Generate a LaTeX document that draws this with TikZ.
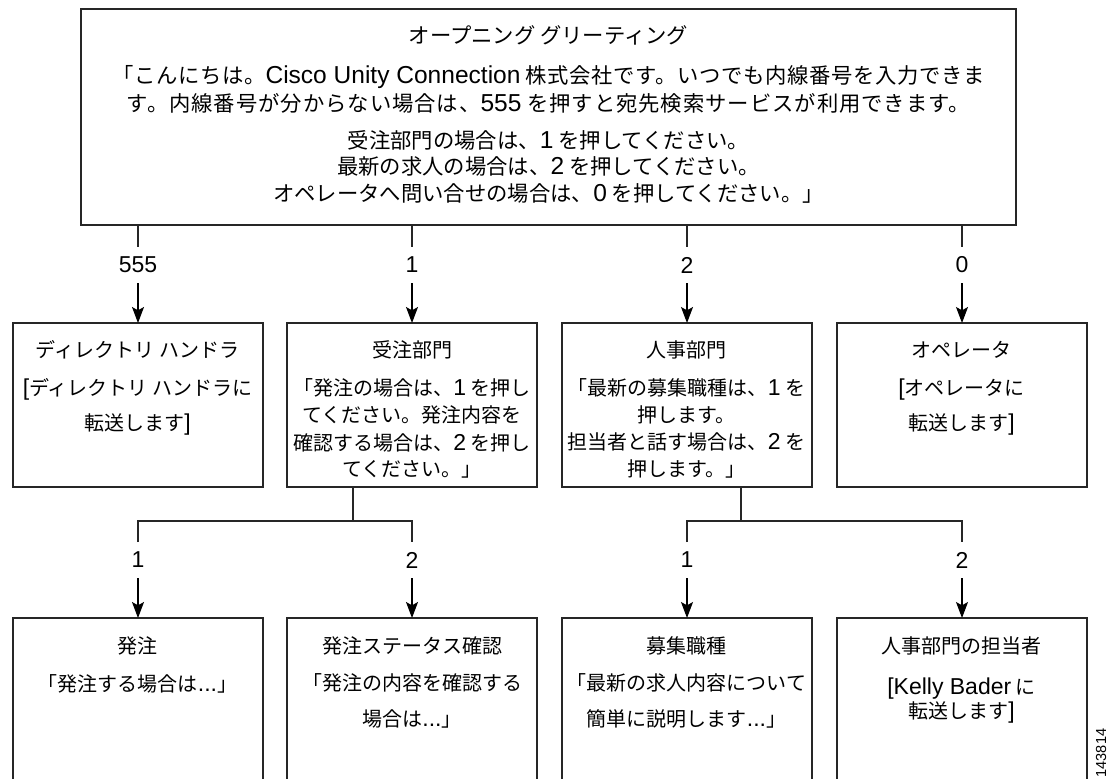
\documentclass[tikz,border=0pt]{standalone}
\usepackage{fontspec}
\setmainfont{Noto Sans CJK JP}
\newfontfamily\lat[Scale=1.15]{Liberation Sans}
\usetikzlibrary{arrows.meta}
\tikzset{
  box/.style={draw=black!85, line width=0.9pt, inner sep=0pt, outer sep=0pt, minimum width=187.5pt, anchor=north west},
  txt/.style={anchor=base, inner sep=0pt, font=\fontsize{15}{18}\selectfont},
  ttxt/.style={anchor=base, inner sep=0pt, font=\fontsize{16}{19}\selectfont},
  lab/.style={inner sep=0pt, outer sep=0pt, minimum height=27pt, font=\fontsize{15}{18}\selectfont\lat},
  con/.style={draw=black!85, line width=0.8pt},
  arr/.style={draw=black, line width=0.8pt, -{Stealth[length=12pt,width=9pt,inset=2.5pt]}},
}
\newcommand\tline[5][txt]{\node[#1] (#2) at #3 {#4#5};}
\begin{document}
\begin{tikzpicture}[x=0.75pt,y=-0.75pt]
\clip (0,0) rectangle (1116,778);
\fill[white] (0,0) rectangle (1116,778);
% top box
\node[box, minimum width=701.25pt, minimum height=162pt] (top) at (81,9) {};
\tline[ttxt]{t1}{(548.5,43)}{}{オープニング グリーティング}
\tline[ttxt]{t2}{(548.5,83)}{\addfontfeatures{LetterSpace=3}}{「こんにちは。{\lat Cisco Unity Connection} 株式会社です。いつでも内線番号を入力できま}
\tline[ttxt]{t3}{(548.5,111)}{\addfontfeatures{LetterSpace=4.5}}{す。内線番号が分からない場合は、{\lat 555} を押すと宛先検索サービスが利用できます。}
\tline[ttxt]{t4}{(548.5,148)}{}{受注部門の場合は、{\lat 1} を押してください。}
\tline[ttxt]{t5}{(548.5,174)}{}{最新の求人の場合は、{\lat 2} を押してください。}
\tline[ttxt]{t6}{(548.5,201)}{}{オペレータへ問い合せの場合は、{\lat 0} を押してください。」}
% row 1 boxes
\node[box, minimum height=123pt] (b1) at (13,323) {};
\node[box, minimum height=123pt] (b2) at (287,323) {};
\node[box, minimum height=123pt] (b3) at (562,323) {};
\node[box, minimum height=123pt] (b4) at (837,323) {};
\tline{b1a}{(137.5,357)}{}{ディレクトリ ハンドラ}
\tline{b1b}{(137.5,395)}{}{{\lat [}ディレクトリ ハンドラに}
\tline{b1c}{(137.5,430)}{}{転送します{\lat ]}}
\tline{b2a}{(412,357)}{}{受注部門}
\tline{b2b}{(412,395)}{}{「発注の場合は、{\lat 1} を押し}
\tline{b2c}{(412,422)}{}{てください。発注内容を}
\tline{b2d}{(412,450)}{}{確認する場合は、{\lat 2} を押し}
\tline{b2e}{(412,476)}{}{てください。」}
\tline{b3a}{(686.5,357)}{}{人事部門}
\tline{b3b}{(686.5,395)}{}{「最新の募集職種は、{\lat 1} を}
\tline{b3c}{(686.5,422)}{}{押します。}
\tline{b3d}{(686.5,449)}{}{担当者と話す場合は、{\lat 2} を}
\tline{b3e}{(686.5,476)}{}{押します。」}
\tline{b4a}{(961.5,357)}{}{オペレータ}
\tline{b4b}{(961.5,395)}{}{{\lat [}オペレータに}
\tline{b4c}{(961.5,430)}{}{転送します{\lat ]}}
% row 2 boxes
\node[box, minimum height=150pt] (c1) at (13,618) {};
\node[box, minimum height=150pt] (c2) at (287,618) {};
\node[box, minimum height=150pt] (c3) at (562,618) {};
\node[box, minimum height=150pt] (c4) at (837,618) {};
\tline{c1a}{(137.5,653)}{}{発注}
\tline{c1b}{(137.5,691)}{}{「発注する場合は{\lat ...}」}
\tline{c2a}{(412,653)}{}{発注ステータス確認}
\tline{c2b}{(412,690)}{}{「発注の内容を確認する}
\tline{c2c}{(412,726)}{}{場合は{\lat ...}」}
\tline{c3a}{(686.5,653)}{}{募集職種}
\tline{c3b}{(686.5,690)}{}{「最新の求人内容について}
\tline{c3c}{(686.5,726)}{}{簡単に説明します{\lat ...}」}
\tline{c4a}{(961.5,653)}{}{人事部門の担当者}
\tline{c4b}{(961.5,694)}{}{{\lat [Kelly Bader} に}
\tline{c4c}{(961.5,718)}{}{転送します{\lat ]}}
% first level labels and connectors
\node[lab] (l1) at (b1.north |- 0,265) {555};
\node[lab] (l2) at (b2.north |- 0,265) {1};
\node[lab] (l3) at (b3.north |- 0,265) {2};
\node[lab] (l4) at (b4.north |- 0,265) {0};
\foreach \i in {1,...,4}{
  \draw[con] (top.south -| l\i.north) -- (l\i.north);
  \draw[arr] (l\i.south) -- (b\i.north);
}
% second level
\coordinate (j1) at (353,521);
\coordinate (j2) at (741,521);
\node[lab] (m1) at (c1.north |- 0,560) {1};
\node[lab] (m2) at (c2.north |- 0,560) {2};
\node[lab] (m3) at (c3.north |- 0,560) {1};
\node[lab] (m4) at (c4.north |- 0,560) {2};
\draw[con] (b2.south -| j1) -- (j1);
\draw[con] (b3.south -| j2) -- (j2);
\draw[con] (m1.north) -- (m1.north |- j1) -- (m2.north |- j1) -- (m2.north);
\draw[con] (m3.north) -- (m3.north |- j2) -- (m4.north |- j2) -- (m4.north);
\foreach \i in {1,...,4}{
  \draw[arr] (m\i.south) -- (c\i.north);
}
\node[rotate=90, inner sep=0pt, font=\fontsize{9.5}{11}\selectfont\lat] (fig) at (1101,753) {143814};
\end{tikzpicture}
\end{document}
